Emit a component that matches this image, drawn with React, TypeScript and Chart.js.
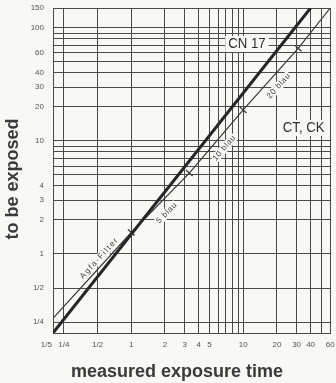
import { useEffect, useRef } from 'react';
import { Chart, registerables } from 'chart.js';

Chart.register(...registerables);

// ---- data ----
const xGridValues = [0.2, 0.25, 0.5, 1, 2, 3, 4, 5, 6, 7, 8, 9, 10, 20, 30, 40, 50, 60];
const xLabelValues = [0.2, 0.25, 0.5, 1, 2, 3, 4, 5, 10, 20, 30, 40, 60];
const xLabelTexts = ['1/5      ', '1/4', '1/2', '1', '2', '3', '4', '5', '10', '20', '30', '40', '60'];

const yGridValues = [0.2, 0.25, 0.5, 1, 2, 3, 4, 5, 6, 7, 8, 9, 10, 20, 30, 40, 50, 60, 70, 80, 90, 100, 150];
const yLabelValues = [0.25, 0.5, 1, 2, 3, 4, 10, 20, 30, 40, 60, 100, 150];
const yLabelTexts = ['1/4', '1/2', '1', '2', '3', '4', '10', '20', '30', '40', '60', '100', '150'];

const cn17Measured = [0.2, 40];
const cn17Exposed = [0.2, 150];

const ctckMeasured = [0.2, 1, 3.3, 10, 31, 60];
const ctckExposed = [0.27, 1.55, 5.2, 18.8, 66, 150];

const markMeasured = [1, 3.3, 10, 31];
const markExposed = [1.55, 5.2, 18.8, 66];
const markTexts = ['Agfa-Filter', '5 blau', '10 blau', '20 blau'];
const markTextX = [0.52, 2.08, 6.79, 20.8];
const markTextY = [0.92, 2.31, 8.67, 30.7];

const seriesNames = ['CN 17', 'CT, CK'];
const seriesNameX = [10.8, 34.7];
const seriesNameY = [72, 13.0];

const xTitle = 'measured exposure time';
const yTitle = 'to be exposed';

// ---- styles ----
const BG = '#f8f8f4';
const GRID = '#4a4a4a';
const FONT = '"Liberation Sans", Arial, Helvetica, sans-serif';

function labelFor(v: number, vals: number[], texts: string[]) {
  for (let i = 0; i < vals.length; i++) {
    if (Math.abs(vals[i] - v) < 1e-6 * Math.max(1, v)) return texts[i];
  }
  return '';
}

function toPts(xs: number[], ys: number[]) {
  return xs.map((x, i) => ({ x, y: ys[i] }));
}

function ctckAngle(chart: any, xv: number) {
  const { x, y } = chart.scales;
  let i = 0;
  while (i < ctckMeasured.length - 2 && ctckMeasured[i + 1] < xv) i++;
  const x0 = x.getPixelForValue(ctckMeasured[i]);
  const y0 = y.getPixelForValue(ctckExposed[i]);
  const x1 = x.getPixelForValue(ctckMeasured[i + 1]);
  const y1 = y.getPixelForValue(ctckExposed[i + 1]);
  return Math.atan2(y1 - y0, x1 - x0);
}

function zeroPad(s: any) {
  s.paddingLeft = 0;
  s.paddingRight = 0;
  s.paddingTop = 0;
  s.paddingBottom = 0;
}

const textPlugin = {
  id: 'textPlugin',
  beforeDraw(chart: any) {
    const { ctx, width, height } = chart;
    ctx.save();
    ctx.fillStyle = BG;
    ctx.fillRect(0, 0, width, height);
    ctx.restore();
  },
  beforeDatasetsDraw(chart: any) {
    const { ctx, scales } = chart;
    const { x, y } = scales;
    ctx.save();
    ctx.fillStyle = BG;
    ctx.font = `15px ${FONT}`;
    seriesNames.forEach((t, i) => {
      const px = x.getPixelForValue(seriesNameX[i]);
      const py = y.getPixelForValue(seriesNameY[i]);
      const w = ctx.measureText(t).width * 0.88;
      ctx.fillRect(px - w / 2 - 3, py - 8, w + 6, 16);
    });
    ctx.font = `8px ${FONT}`;
    markTexts.forEach((t, i) => {
      const px = x.getPixelForValue(markTextX[i]);
      const py = y.getPixelForValue(markTextY[i]);
      const sp = i === 0 ? 1.5 : 0.7;
      const w = ctx.measureText(t).width + sp * (t.length - 1);
      ctx.save();
      ctx.translate(px, py);
      ctx.rotate(ctckAngle(chart, markTextX[i]));
      ctx.fillRect(-w / 2 - 1, -4.5, w + 2, 9);
      ctx.restore();
    });
    ctx.restore();
  },
  afterDatasetsDraw(chart: any) {
    const { ctx, scales } = chart;
    const { x, y } = scales;
    ctx.save();
    ctx.textAlign = 'center';
    ctx.textBaseline = 'middle';
    ctx.fillStyle = '#2e2e2e';
    ctx.font = `15px ${FONT}`;
    seriesNames.forEach((t, i) => {
      const px = x.getPixelForValue(seriesNameX[i]);
      const py = y.getPixelForValue(seriesNameY[i]);
      ctx.save();
      ctx.translate(px, py);
      ctx.scale(0.88, 1);
      ctx.fillText(t, 0, 0);
      ctx.restore();
    });
    ctx.fillStyle = '#444';
    ctx.font = `8px ${FONT}`;
    markTexts.forEach((t, i) => {
      const px = x.getPixelForValue(markTextX[i]);
      const py = y.getPixelForValue(markTextY[i]);
      const sp = i === 0 ? 1.5 : 0.7;
      ctx.save();
      (ctx as any).letterSpacing = `${sp}px`;
      ctx.translate(px, py);
      ctx.rotate(ctckAngle(chart, markTextX[i]));
      ctx.fillText(t, 0, 0);
      ctx.restore();
    });
    ctx.restore();
  },
  afterDraw(chart: any) {
    const { ctx } = chart;
    ctx.save();
    ctx.fillStyle = '#3a3a3a';
    ctx.font = `bold 18px ${FONT}`;
    ctx.textAlign = 'center';
    ctx.textBaseline = 'middle';
    ctx.fillText(xTitle, 177, 372);
    ctx.translate(13, 179);
    ctx.rotate(-Math.PI / 2);
    ctx.fillText(yTitle, 0, 0);
    ctx.restore();
  },
};

export default function App() {
  const canvasRef = useRef<HTMLCanvasElement | null>(null);

  useEffect(() => {
    const canvas = canvasRef.current;
    if (!canvas) return;
    const chart = new Chart(canvas, {
      type: 'line',
      data: {
        datasets: [
          {
            label: seriesNames[0],
            data: toPts(cn17Measured, cn17Exposed),
            borderColor: '#262626',
            borderWidth: 3,
            pointRadius: 0,
            tension: 0,
          },
          {
            label: seriesNames[1],
            data: toPts(ctckMeasured, ctckExposed),
            borderColor: '#383838',
            borderWidth: 1.2,
            pointRadius: 0,
            tension: 0,
          },
          {
            label: 'marks',
            data: toPts(markMeasured, markExposed),
            showLine: false,
            borderColor: '#383838',
            backgroundColor: '#383838',
            borderWidth: 1.2,
            pointStyle: 'line',
            pointRadius: 4.5,
            rotation: 42,
          },
        ],
      },
      options: {
        animation: false,
        responsive: false,
        maintainAspectRatio: false,
        layout: { padding: { top: 8, right: 3, left: 0, bottom: 0 } },
        plugins: { legend: { display: false }, tooltip: { enabled: false } },
        scales: {
          x: {
            type: 'logarithmic',
            min: 0.2,
            max: 60,
            afterBuildTicks: (s: any) => {
              s.ticks = xGridValues.map((v) => ({ value: v }));
            },
            afterFit: (s: any) => {
              s.height = 50;
              zeroPad(s);
            },
            grid: { color: GRID, lineWidth: 1, drawTicks: false },
            border: { display: true, color: GRID, width: 1 },
            ticks: {
              autoSkip: false,
              maxRotation: 0,
              minRotation: 0,
              padding: 7,
              color: '#555',
              font: { size: 8, family: FONT },
              callback: (v: any) => labelFor(Number(v), xLabelValues, xLabelTexts),
            },
          },
          y: {
            type: 'logarithmic',
            min: 0.2,
            max: 150,
            afterBuildTicks: (s: any) => {
              s.ticks = yGridValues.map((v) => ({ value: v }));
            },
            afterFit: (s: any) => {
              s.width = 53;
              zeroPad(s);
            },
            grid: { color: GRID, lineWidth: 1, drawTicks: false },
            border: { display: true, color: GRID, width: 1 },
            ticks: {
              autoSkip: false,
              padding: 9,
              color: '#555',
              font: { size: 8, family: FONT },
              callback: (v: any) => labelFor(Number(v), yLabelValues, yLabelTexts),
            },
          },
        },
      },
      plugins: [textPlugin],
    } as any);
    return () => chart.destroy();
  }, []);

  return (
    <div style={{ position: 'absolute', left: 0, top: 0, width: 336, height: 383, background: BG }}>
      <canvas ref={canvasRef} width={336} height={383} style={{ display: 'block' }} />
    </div>
  );
}
